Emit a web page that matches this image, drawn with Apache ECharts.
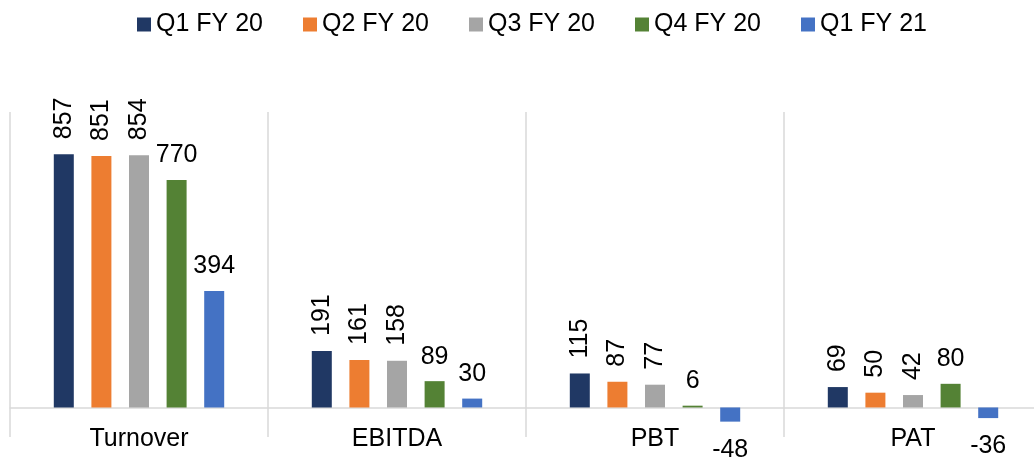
<!DOCTYPE html>
<html>
<head>
<meta charset="utf-8">
<script src="https://cdn.jsdelivr.net/npm/echarts@6/dist/echarts.min.js"></script>
<style>
  html, body { margin: 0; padding: 0; background: #fff; }
  #chart { width: 1034px; height: 463px; }
</style>
</head>
<body>
<div id="chart"></div>
<script>
// categories and series
const categories = ["Turnover", "EBITDA", "PBT", "PAT"];
const seriesNames = ["Q1 FY 20", "Q2 FY 20", "Q3 FY 20", "Q4 FY 20", "Q1 FY 21"];
const q1fy20 = [857, 191, 115, 69];
const q2fy20 = [851, 161, 87, 50];
const q3fy20 = [854, 158, 77, 42];
const q4fy20 = [770, 89, 6, 80];
const q1fy21 = [394, 30, -48, -36];

const colors = ["#203864", "#ED7D31", "#A5A5A5", "#548235", "#4472C4"];
const fontFamily = "'Liberation Sans', Arial, sans-serif";
const allData = [q1fy20, q2fy20, q3fy20, q4fy20, q1fy21];
// first three series have vertical labels
const rotated = [true, true, true, false, false];

const myChart = echarts.init(document.getElementById("chart"));

const series = allData.map((arr, i) => {
  const label = rotated[i]
    ? { show: true, position: "top", rotate: 90, align: "left", verticalAlign: "middle", distance: 15 }
    : { show: true, position: "top", distance: 12 };
  return {
    name: seriesNames[i],
    type: "bar",
    barWidth: 20,
    barGap: "88%",
    itemStyle: { color: colors[i] },
    label: Object.assign(label, { color: "#000", fontSize: 25, fontFamily: fontFamily }),
    data: arr.map((v) => v < 0
      ? { value: v, label: { position: "bottom", distance: 16 } }
      : v),
  };
});

const option = {
  color: colors,
  animation: false,
  legend: {
    data: seriesNames,
    top: 7,
    left: 132,
    itemWidth: 14,
    itemHeight: 14,
    itemGap: 40,
    icon: "rect",
    textStyle: { fontSize: 25, color: "#000", fontFamily: fontFamily },
  },
  grid: { left: 10, right: -8, top: 112, bottom: 26, containLabel: false, outerBoundsMode: "none" },
  xAxis: {
    type: "category",
    data: categories,
    axisLine: { lineStyle: { color: "#d9d9d9", width: 1.5 } },
    axisTick: { show: false },
    splitLine: { show: true, interval: 0, lineStyle: { color: "#d9d9d9", width: 1.5 } },
    axisLabel: { fontSize: 25, color: "#000", margin: -10, fontFamily: fontFamily },
  },
  yAxis: {
    type: "value",
    min: -100,
    max: 1000,
    show: false,
    splitLine: { show: false },
  },
  series: series,
};
myChart.setOption(option);
</script>
</body>
</html>
